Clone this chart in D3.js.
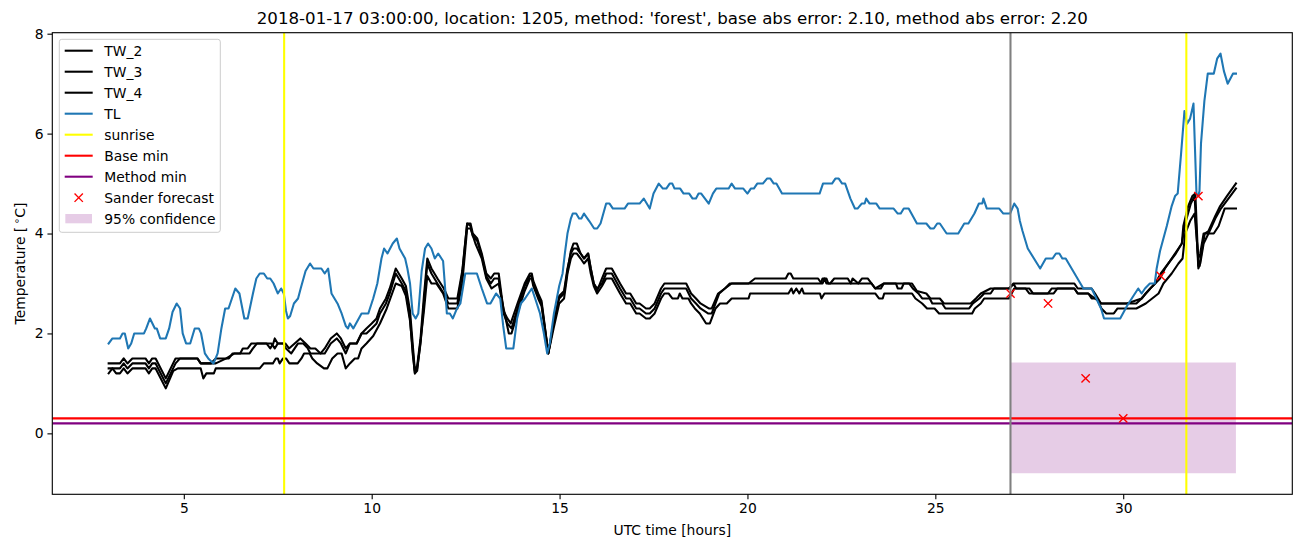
<!DOCTYPE html>
<html><head><meta charset="utf-8">
<script src="https://cdn.jsdelivr.net/npm/d3@7"></script>
<style>
body{margin:0;background:#fff}
svg{display:block}
text{font-family:"DejaVu Sans",sans-serif;fill:#000}
</style>
</head><body>
<svg id="c" width="1302" height="547"></svg>
<script>
// ---------------- data ----------------
const titleText = "2018-01-17 03:00:00, location: 1205, method: 'forest', base abs error: 2.10, method abs error: 2.20";
const xTicks = [5, 10, 15, 20, 25, 30];
const yTicks = [0, 2, 4, 6, 8];
const seriesNames = ["TW_2", "TW_3", "TW_4", "TL"];

const TW_2 = [[3.0,1.4],[3.3,1.4],[3.4,1.5],[3.5,1.4],[3.63,1.5],[3.98,1.5],[4.07,1.4],[4.16,1.5],[4.25,1.5],[4.52,1.1],[4.78,1.5],[5.36,1.5],[5.45,1.4],[5.72,1.4],[5.85,1.5],[6.2,1.5],[6.3,1.6],[6.75,1.6],[6.84,1.7],[6.95,1.8],[7.2,1.8],[7.3,1.7],[7.38,1.8],[7.42,1.9],[7.5,1.8],[7.7,1.8],[7.8,1.7],[7.95,1.8],[8.1,1.9],[8.24,1.8],[8.37,1.7],[8.5,1.7],[8.64,1.6],[8.75,1.7],[8.91,1.9],[9.07,2.0],[9.18,1.9],[9.31,1.7],[9.42,1.8],[9.6,1.8],[9.73,2.0],[9.86,2.1],[10.0,2.2],[10.13,2.3],[10.22,2.5],[10.38,2.7],[10.48,2.9],[10.64,3.3],[10.8,3.1],[10.91,2.95],[11.02,2.45],[11.09,1.8],[11.15,1.25],[11.21,1.35],[11.3,1.9],[11.39,2.75],[11.48,3.5],[11.59,3.3],[11.75,3.1],[11.92,2.9],[12.04,2.7],[12.28,2.7],[12.41,3.25],[12.54,4.2],[12.63,4.2],[12.69,4.0],[12.81,3.9],[12.93,3.6],[13.05,3.2],[13.17,3.1],[13.26,3.2],[13.38,3.2],[13.51,2.45],[13.61,2.3],[13.7,2.2],[13.88,2.6],[14.07,3.0],[14.21,3.2],[14.26,3.2],[14.3,3.05],[14.43,2.8],[14.52,2.65],[14.7,1.6],[14.84,2.2],[14.99,2.7],[15.12,2.8],[15.21,3.25],[15.3,3.65],[15.37,3.8],[15.46,3.8],[15.56,3.6],[15.65,3.5],[15.76,3.6],[15.83,3.3],[15.91,3.0],[16.0,2.85],[16.13,3.1],[16.24,3.3],[16.39,3.3],[16.61,3.0],[16.77,2.8],[16.88,2.8],[17.04,2.6],[17.13,2.6],[17.3,2.5],[17.4,2.5],[17.53,2.6],[17.7,2.9],[17.79,3.0],[18.37,3.0],[18.5,2.8],[18.63,2.7],[18.75,2.6],[18.97,2.5],[19.05,2.5],[19.22,2.8],[19.4,2.9],[19.58,3.0],[20.03,3.0],[20.2,3.1],[21.02,3.1],[21.09,3.2],[21.15,3.2],[21.22,3.1],[21.88,3.1],[21.97,3.0],[22.0,3.0],[22.05,3.1],[22.1,3.0],[22.2,3.0],[22.31,3.1],[22.67,3.1],[22.75,3.0],[22.8,3.1],[22.95,3.0],[23.05,3.1],[23.2,3.1],[23.3,3.0],[23.4,2.9],[23.63,3.0],[24.38,3.0],[24.51,2.85],[24.76,2.8],[24.87,2.7],[25.12,2.7],[25.23,2.6],[25.94,2.6],[26.08,2.7],[26.21,2.8],[26.47,2.9],[26.96,2.9],[27.1,3.0],[28.7,3.0],[28.79,2.9],[29.16,2.9],[29.25,2.8],[29.41,2.6],[30.1,2.6],[30.49,2.7],[30.6,2.8],[30.72,2.9],[30.85,3.0],[30.98,3.1],[31.11,3.3],[31.29,3.5],[31.47,3.7],[31.56,3.8],[31.6,4.15],[31.73,4.55],[31.84,4.75],[31.92,4.8],[32.0,3.35],[32.03,3.35],[32.08,3.6],[32.17,4.0],[32.27,4.05],[32.45,4.35],[32.58,4.55],[32.76,4.75],[33.0,5.0]];

const TW_3 = [[3.0,1.3],[3.3,1.3],[3.4,1.4],[3.5,1.3],[3.63,1.4],[3.98,1.4],[4.07,1.3],[4.16,1.4],[4.25,1.4],[4.52,1.0],[4.78,1.4],[4.9,1.5],[5.36,1.5],[5.45,1.4],[5.85,1.4],[6.13,1.5],[6.35,1.6],[6.5,1.6],[6.57,1.7],[6.7,1.7],[6.8,1.8],[7.33,1.8],[7.42,1.7],[7.5,1.8],[7.65,1.8],[7.72,1.7],[7.86,1.6],[7.95,1.7],[8.04,1.8],[8.18,1.8],[8.3,1.7],[8.37,1.6],[8.75,1.6],[8.91,1.8],[9.07,1.9],[9.18,1.8],[9.31,1.6],[9.42,1.8],[9.6,1.8],[9.73,2.0],[9.86,2.0],[10.0,2.1],[10.13,2.2],[10.22,2.4],[10.38,2.6],[10.48,2.8],[10.64,3.2],[10.8,3.0],[10.91,2.85],[11.02,2.3],[11.09,1.6],[11.15,1.2],[11.21,1.3],[11.3,1.8],[11.39,2.6],[11.48,3.4],[11.59,3.2],[11.75,3.0],[11.92,2.8],[12.04,2.6],[12.28,2.6],[12.41,3.2],[12.54,4.2],[12.63,4.15],[12.69,3.95],[12.81,3.85],[12.93,3.55],[13.05,3.15],[13.17,3.0],[13.26,3.1],[13.38,3.1],[13.51,2.4],[13.61,2.2],[13.72,2.1],[13.88,2.5],[14.07,2.95],[14.21,3.15],[14.26,3.15],[14.3,3.0],[14.43,2.75],[14.52,2.6],[14.7,1.6],[14.84,2.2],[14.99,2.75],[15.12,2.85],[15.21,3.3],[15.3,3.6],[15.37,3.7],[15.46,3.7],[15.56,3.6],[15.65,3.5],[15.76,3.6],[15.83,3.3],[15.91,3.0],[16.0,2.9],[16.13,3.0],[16.24,3.2],[16.39,3.2],[16.61,2.9],[16.77,2.7],[16.88,2.7],[17.04,2.5],[17.13,2.5],[17.3,2.4],[17.4,2.4],[17.53,2.5],[17.7,2.8],[17.79,2.9],[18.37,2.9],[18.5,2.7],[18.63,2.6],[18.75,2.5],[18.95,2.4],[19.05,2.4],[19.15,2.6],[19.25,2.8],[19.4,2.9],[19.53,3.0],[21.95,3.0],[22.0,3.1],[22.1,3.1],[22.15,3.0],[23.3,3.0],[23.4,2.9],[23.55,2.9],[23.63,3.0],[23.95,3.0],[24.0,2.9],[24.1,2.9],[24.16,3.0],[24.3,3.0],[24.4,2.9],[24.55,2.8],[24.65,2.7],[24.85,2.7],[24.92,2.6],[25.18,2.6],[25.27,2.5],[25.9,2.5],[26.0,2.6],[26.17,2.7],[26.3,2.8],[26.47,2.8],[26.56,2.9],[26.96,2.9],[27.08,3.0],[27.15,2.9],[27.4,2.9],[27.5,2.8],[28.0,2.8],[28.1,2.9],[28.7,2.9],[28.79,2.8],[29.07,2.8],[29.25,2.7],[29.42,2.6],[30.35,2.6],[30.49,2.7],[30.6,2.8],[30.72,2.9],[30.85,3.0],[31.0,3.2],[31.2,3.4],[31.4,3.6],[31.56,3.8],[31.65,4.2],[31.8,4.6],[31.9,4.75],[32.0,3.3],[32.05,3.4],[32.14,3.8],[32.27,4.0],[32.45,4.3],[32.6,4.5],[32.8,4.7],[33.0,4.9]];

const TW_4 = [[3.0,1.2],[3.1,1.3],[3.2,1.2],[3.3,1.2],[3.4,1.3],[3.5,1.2],[3.63,1.3],[3.98,1.3],[4.07,1.2],[4.16,1.3],[4.25,1.3],[4.52,0.9],[4.72,1.25],[4.84,1.3],[5.45,1.3],[5.52,1.1],[5.6,1.2],[5.8,1.2],[5.85,1.3],[7.02,1.3],[7.13,1.4],[7.37,1.4],[7.45,1.5],[7.5,1.5],[7.55,1.4],[7.64,1.5],[7.72,1.5],[7.81,1.4],[8.03,1.4],[8.13,1.5],[8.2,1.6],[8.35,1.6],[8.42,1.5],[8.55,1.4],[8.73,1.3],[8.82,1.3],[8.95,1.5],[9.09,1.6],[9.2,1.6],[9.31,1.3],[9.42,1.4],[9.55,1.5],[9.64,1.5],[9.73,1.7],[9.86,1.8],[10.04,1.95],[10.22,2.2],[10.4,2.5],[10.64,3.0],[10.8,2.95],[10.91,2.75],[11.02,2.25],[11.15,1.2],[11.21,1.25],[11.39,2.45],[11.48,3.15],[11.59,3.0],[11.72,3.0],[11.9,2.8],[12.04,2.5],[12.28,2.5],[12.41,3.0],[12.54,4.1],[12.63,4.1],[12.76,3.8],[12.93,3.5],[13.05,3.1],[13.19,2.9],[13.38,3.0],[13.51,2.5],[13.65,2.0],[13.72,2.0],[13.88,2.4],[14.07,2.85],[14.21,3.1],[14.26,3.1],[14.3,2.95],[14.43,2.7],[14.52,2.55],[14.7,1.6],[14.84,2.1],[14.99,2.6],[15.12,2.7],[15.21,3.2],[15.3,3.5],[15.37,3.6],[15.46,3.6],[15.56,3.5],[15.65,3.4],[15.76,3.5],[15.83,3.2],[15.91,2.95],[16.0,2.8],[16.13,2.95],[16.24,3.1],[16.39,3.1],[16.61,2.8],[16.77,2.6],[16.88,2.6],[17.04,2.4],[17.13,2.4],[17.3,2.3],[17.4,2.3],[17.53,2.4],[17.7,2.7],[17.79,2.8],[17.9,2.8],[18.0,2.7],[18.15,2.7],[18.2,2.8],[18.27,2.7],[18.43,2.7],[18.5,2.6],[18.6,2.5],[18.73,2.4],[18.9,2.2],[19.0,2.2],[19.15,2.5],[19.27,2.6],[19.45,2.6],[19.58,2.7],[20.03,2.7],[20.07,2.8],[21.09,2.8],[21.17,2.9],[21.22,2.8],[21.3,2.9],[21.38,2.8],[21.45,2.9],[21.5,2.8],[21.93,2.8],[21.97,2.7],[22.05,2.8],[23.4,2.8],[23.5,2.7],[23.6,2.7],[23.64,2.8],[24.38,2.8],[24.47,2.7],[24.65,2.6],[24.78,2.5],[24.98,2.5],[25.1,2.4],[25.98,2.4],[26.05,2.5],[26.21,2.6],[26.3,2.7],[26.96,2.7],[27.1,2.9],[27.5,2.9],[27.6,2.8],[28.15,2.8],[28.25,2.9],[28.7,2.9],[28.79,2.8],[29.07,2.8],[29.16,2.7],[29.3,2.7],[29.42,2.5],[29.55,2.4],[29.75,2.4],[29.85,2.5],[30.35,2.5],[30.6,2.6],[30.77,2.7],[30.94,2.8],[31.07,3.0],[31.29,3.2],[31.47,3.4],[31.58,3.5],[31.65,4.0],[31.78,4.25],[31.9,4.4],[32.0,3.5],[32.05,3.6],[32.14,4.0],[32.41,4.0],[32.54,4.15],[32.7,4.5],[33.0,4.5]];

const TL = [[3.0,1.8],[3.1,1.9],[3.3,1.9],[3.37,2.0],[3.43,2.0],[3.52,1.7],[3.6,1.8],[3.68,2.0],[3.94,2.0],[4.0,2.1],[4.1,2.3],[4.23,2.1],[4.28,2.1],[4.37,1.9],[4.52,1.9],[4.61,2.1],[4.7,2.43],[4.81,2.6],[4.9,2.5],[4.97,2.0],[5.06,1.8],[5.17,1.8],[5.29,2.1],[5.4,2.1],[5.46,2.0],[5.56,1.6],[5.65,1.5],[5.79,1.4],[5.9,1.6],[6.0,2.1],[6.1,2.5],[6.19,2.5],[6.28,2.7],[6.37,2.9],[6.48,2.8],[6.61,2.3],[6.7,2.3],[6.84,2.8],[6.93,3.1],[7.02,3.2],[7.13,3.2],[7.22,3.1],[7.3,3.1],[7.39,3.0],[7.5,2.8],[7.59,2.9],[7.66,2.8],[7.72,2.45],[7.77,2.3],[7.83,2.35],[7.93,2.6],[8.04,2.7],[8.11,2.9],[8.24,3.25],[8.36,3.4],[8.45,3.3],[8.66,3.3],[8.75,3.2],[8.84,3.3],[8.93,2.8],[9.09,2.6],[9.2,2.4],[9.31,2.15],[9.37,2.1],[9.42,2.2],[9.51,2.1],[9.73,2.4],[9.91,2.4],[10.04,2.7],[10.15,3.0],[10.26,3.5],[10.33,3.7],[10.42,3.6],[10.56,3.8],[10.67,3.9],[10.74,3.7],[10.89,3.5],[10.95,3.3],[11.02,3.0],[11.09,2.4],[11.17,2.3],[11.24,2.4],[11.33,3.25],[11.42,3.7],[11.5,3.8],[11.59,3.7],[11.68,3.5],[11.77,3.6],[11.9,3.45],[11.96,2.85],[12.0,2.4],[12.08,2.4],[12.16,2.3],[12.27,2.5],[12.36,2.6],[12.49,3.2],[12.8,3.2],[12.93,2.9],[13.07,2.6],[13.16,2.6],[13.31,2.8],[13.42,2.7],[13.5,2.15],[13.58,1.7],[13.77,1.7],[13.87,2.3],[13.97,2.6],[14.08,2.7],[14.26,2.9],[14.35,2.7],[14.48,2.4],[14.57,2.05],[14.67,1.6],[14.74,1.8],[14.85,2.4],[14.99,2.95],[15.08,3.2],[15.14,3.6],[15.21,4.0],[15.3,4.3],[15.35,4.4],[15.44,4.4],[15.52,4.3],[15.58,4.3],[15.65,4.4],[15.79,4.25],[15.92,4.1],[16.0,4.1],[16.09,4.2],[16.24,4.6],[16.33,4.6],[16.42,4.5],[16.73,4.5],[16.82,4.6],[17.13,4.6],[17.24,4.7],[17.4,4.5],[17.5,4.8],[17.64,5.0],[17.75,4.9],[17.84,4.9],[17.93,5.0],[18.0,5.0],[18.06,4.9],[18.21,4.9],[18.3,4.8],[18.45,4.8],[18.54,4.7],[18.63,4.7],[18.7,4.8],[18.77,4.8],[18.87,4.7],[18.97,4.6],[19.08,4.8],[19.17,4.9],[19.5,4.9],[19.58,5.0],[19.67,4.9],[19.89,4.9],[20.0,4.8],[20.09,4.9],[20.17,4.9],[20.26,5.0],[20.41,5.0],[20.52,5.1],[20.61,5.1],[20.7,5.0],[20.77,5.0],[20.92,4.8],[21.92,4.8],[22.01,5.0],[22.25,5.0],[22.34,5.1],[22.43,5.1],[22.52,5.0],[22.6,5.0],[22.74,4.7],[22.86,4.5],[22.93,4.5],[23.04,4.6],[23.12,4.6],[23.16,4.7],[23.25,4.6],[23.43,4.6],[23.52,4.5],[23.89,4.5],[24.0,4.4],[24.08,4.4],[24.16,4.5],[24.29,4.5],[24.51,4.2],[24.76,4.2],[24.87,4.1],[24.96,4.1],[25.05,4.2],[25.12,4.2],[25.3,4.0],[25.61,4.0],[25.77,4.2],[25.88,4.2],[26.04,4.4],[26.16,4.6],[26.25,4.6],[26.28,4.7],[26.37,4.5],[26.7,4.5],[26.81,4.4],[26.99,4.4],[27.1,4.6],[27.19,4.5],[27.25,4.25],[27.32,4.05],[27.46,3.7],[27.79,3.3],[27.94,3.5],[28.12,3.5],[28.21,3.6],[28.3,3.6],[28.38,3.5],[28.47,3.5],[28.94,2.9],[29.16,2.9],[29.41,2.5],[29.49,2.3],[29.92,2.3],[30.1,2.55],[30.27,2.75],[30.4,2.9],[30.49,2.8],[30.58,2.9],[30.71,3.0],[30.84,3.0],[30.89,3.3],[30.98,3.65],[31.16,4.15],[31.29,4.55],[31.38,4.75],[31.45,4.8],[31.54,5.6],[31.63,6.45],[31.7,6.2],[31.78,6.3],[31.87,6.6],[31.95,4.8],[32.0,4.75],[32.03,4.85],[32.07,5.8],[32.16,6.65],[32.25,7.2],[32.41,7.2],[32.5,7.5],[32.59,7.6],[32.68,7.25],[32.78,7.0],[32.92,7.2],[33.0,7.2]];

const sunriseTimes = [7.67, 31.68];
const forecastStart = 27.0;
const baseMin = 0.3;
const methodMin = 0.2;
const forecastTimes = [27, 28, 29, 30, 31, 32];
const forecastValues = [2.8, 2.6, 1.1, 0.3, 3.15, 4.75];
const confidenceTimes = [27, 33];
const confidenceLow = [-0.8, -0.8];
const confidenceHigh = [1.42, 1.42];

// ---------------- layout ----------------
const PT = 100 / 72; // matplotlib points -> px at dpi 100
const LW = 1.5 * PT;
const L = 52.3, R = 1292.3, T = 32.7, B = 494.3;
const svg = d3.select("#c");
const x = d3.scaleLinear().domain([1.5, 34.5]).range([L, R]);
const y = d3.scaleLinear().domain([-1.22, 8.02]).range([B, T]);

svg.append("defs").append("clipPath").attr("id", "clip")
  .append("rect").attr("x", L).attr("y", T).attr("width", R - L).attr("height", B - T);

const plot = svg.append("g").attr("clip-path", "url(#clip)");

// confidence band
const band = confidenceTimes.map((t, i) => ({t, lo: confidenceLow[i], hi: confidenceHigh[i]}));
plot.append("path").datum(band)
  .attr("d", d3.area().x(d => x(d.t)).y0(d => y(d.lo)).y1(d => y(d.hi)))
  .attr("fill", "purple").attr("fill-opacity", 0.2);

const line = d3.line().x(d => x(d[0])).y(d => y(d[1]));
const seriesData = [TW_2, TW_3, TW_4, TL];
const seriesColors = ["#000000", "#000000", "#000000", "#1f77b4"];
seriesData.forEach((s, i) => {
  plot.append("path").datum(s).attr("d", line)
    .attr("fill", "none").attr("stroke", seriesColors[i]).attr("stroke-width", LW)
    .attr("stroke-linejoin", "round").attr("stroke-linecap", "square");
});

// sunrise lines
sunriseTimes.forEach(t => {
  plot.append("line").attr("x1", x(t)).attr("x2", x(t)).attr("y1", T).attr("y2", B)
    .attr("stroke", "#ffff00").attr("stroke-width", LW);
});
// base/method min
[[baseMin, "#ff0000"], [methodMin, "#800080"]].forEach(([v, c]) => {
  plot.append("line").attr("x1", L).attr("x2", R).attr("y1", y(v)).attr("y2", y(v))
    .attr("stroke", c).attr("stroke-width", LW);
});
// forecast markers
const ms = 3 * PT;
forecastTimes.forEach((t, i) => {
  const cx = x(t), cy = y(forecastValues[i]);
  plot.append("path")
    .attr("d", `M${cx - ms},${cy - ms}L${cx + ms},${cy + ms}M${cx - ms},${cy + ms}L${cx + ms},${cy - ms}`)
    .attr("stroke", "#ff0000").attr("stroke-width", PT).attr("fill", "none");
});
// forecast start
plot.append("line").attr("x1", x(forecastStart)).attr("x2", x(forecastStart)).attr("y1", T).attr("y2", B)
  .attr("stroke", "#808080").attr("stroke-width", LW);

// frame
svg.append("rect").attr("x", L).attr("y", T).attr("width", R - L).attr("height", B - T)
  .attr("fill", "none").attr("stroke", "#000").attr("stroke-width", 0.8 * PT);

// axes
const fs = 10 * PT;
const xAxis = d3.axisBottom(x).tickValues(xTicks).tickSize(3.5 * PT).tickPadding(3.5 * PT - 1).tickFormat(d3.format("d"));
const gx = svg.append("g").attr("transform", `translate(0,${B})`).call(xAxis);
const yAxis = d3.axisLeft(y).tickValues(yTicks).tickSize(3.5 * PT).tickPadding(3.5 * PT - 1).tickFormat(d3.format("d"));
const gy = svg.append("g").attr("transform", `translate(${L},0)`).call(yAxis);
[gx, gy].forEach(g => {
  g.select(".domain").remove();
  g.selectAll(".tick line").attr("stroke", "#000").attr("stroke-width", 0.8 * PT);
  g.selectAll(".tick text").attr("font-size", fs).attr("font-family", "DejaVu Sans").attr("fill", "#000");
});

// title & labels
svg.append("text").attr("x", (L + R) / 2).attr("y", 24.2).attr("text-anchor", "middle")
  .attr("font-size", 12 * PT).text(titleText);
svg.append("text").attr("x", (L + R) / 2).attr("y", 535).attr("text-anchor", "middle")
  .attr("font-size", fs).text("UTC time [hours]");
const yl = svg.append("text").attr("transform", `translate(25,${(T + B) / 2}) rotate(-90)`)
  .attr("text-anchor", "middle").attr("font-size", fs);
yl.append("tspan").text("Temperature [\u2009");
yl.append("tspan").attr("font-size", 10).attr("dy", -5.5).text("\u2218");
yl.append("tspan").attr("dy", 5.5).text("C]");

// legend
const lg = svg.append("g");
lg.append("rect").attr("x", 59.3).attr("y", 39.3).attr("width", 161).attr("height", 193)
  .attr("rx", 2.5).attr("fill", "#fff").attr("fill-opacity", 0.8)
  .attr("stroke", "#cccccc").attr("stroke-width", 1);
const legendItems = [
  {label: seriesNames[0], type: "line", color: "#000000"},
  {label: seriesNames[1], type: "line", color: "#000000"},
  {label: seriesNames[2], type: "line", color: "#000000"},
  {label: seriesNames[3], type: "line", color: "#1f77b4"},
  {label: "sunrise", type: "line", color: "#ffff00"},
  {label: "Base min", type: "line", color: "#ff0000"},
  {label: "Method min", type: "line", color: "#800080"},
  {label: "Sander forecast", type: "x", color: "#ff0000"},
  {label: "95% confidence", type: "patch", color: "purple"}
];
legendItems.forEach((it, i) => {
  const cy = 50.7 + i * 21.0;
  if (it.type === "line") {
    lg.append("line").attr("x1", 64.7).attr("x2", 92.7).attr("y1", cy).attr("y2", cy)
      .attr("stroke", it.color).attr("stroke-width", LW);
  } else if (it.type === "x") {
    const cx = 78.7;
    lg.append("path")
      .attr("d", `M${cx - ms},${cy - ms}L${cx + ms},${cy + ms}M${cx - ms},${cy + ms}L${cx + ms},${cy - ms}`)
      .attr("stroke", it.color).attr("stroke-width", PT);
  } else {
    lg.append("rect").attr("x", 65.3).attr("y", cy - 4.7).attr("width", 26.7).attr("height", 9.3)
      .attr("fill", it.color).attr("fill-opacity", 0.2);
  }
  lg.append("text").attr("x", 104.3).attr("y", cy).attr("dy", "0.36em")
    .attr("font-size", fs).text(it.label);
});
</script>
</body></html>
